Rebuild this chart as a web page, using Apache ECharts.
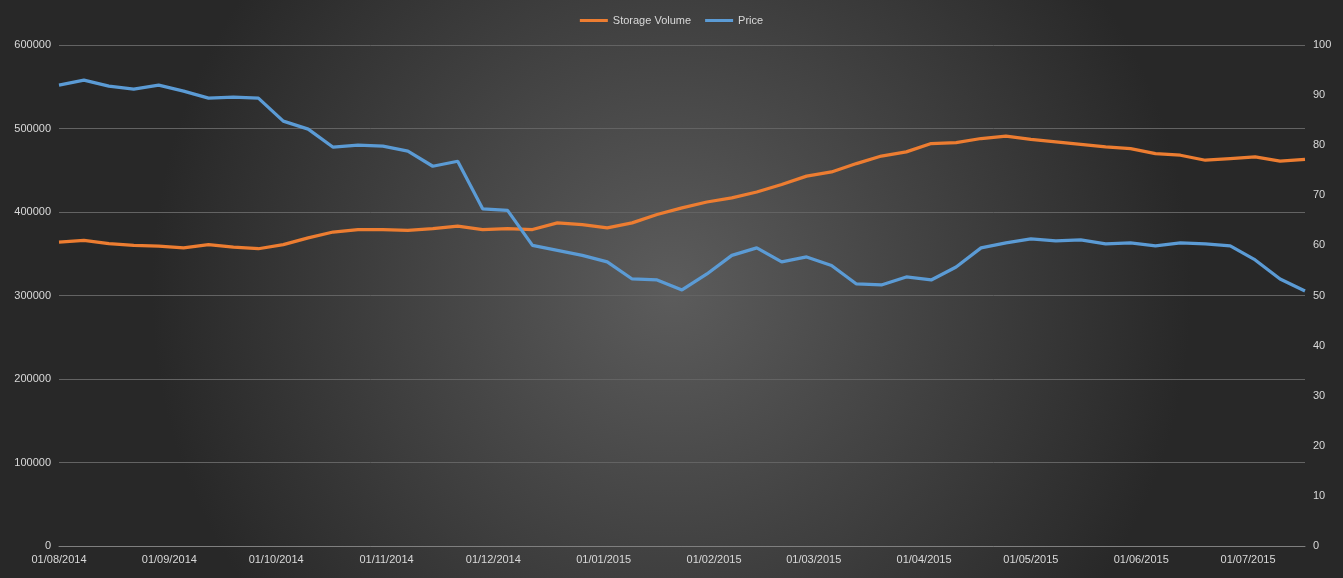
<!DOCTYPE html>
<html><head><meta charset="utf-8">
<script src="https://cdn.jsdelivr.net/npm/echarts@6/dist/echarts.min.js"></script>
<style>html,body{margin:0;padding:0;}#c{width:1343px;height:578px;}</style>
</head><body><div id="c"></div>
<script>
const startDate = '2014-08-01';
const weekCount = 51;
const storageVolume = [364000,366000,362000,360000,359000,357000,361000,358000,356000,361000,369000,376000,379000,379000,378000,380000,383000,379000,380000,379000,387000,385000,381000,387000,397000,405000,412000,417000,424000,433000,443000,448000,458000,467000,472000,482000,483000,488000,491000,487000,484000,481000,478000,476000,470000,468000,462000,464000,466000,461000,463000];
const price = [92,93,91.8,91.2,92,90.8,89.4,89.6,89.4,84.8,83.2,79.6,80,79.8,78.8,75.8,76.8,67.3,67,60,59,58,56.7,53.3,53.1,51.1,54.3,58,59.5,56.7,57.7,56,52.3,52.1,53.7,53.1,55.7,59.5,60.5,61.3,60.9,61.1,60.3,60.5,59.9,60.5,60.3,59.9,57.1,53.3,50.9];
const seriesNames = ['Storage Volume','Price'];

const t0 = new Date(startDate + 'T00:00:00Z').getTime();
const dates = [];
for (let i = 0; i < weekCount; i++) dates.push(t0 + i * 7 * 86400000);
const pad = n => (n < 10 ? '0' : '') + n;

const chart = echarts.init(document.getElementById('c'));
chart.setOption({
  backgroundColor: {type:'radial', x:0.5, y:0.5, r:0.9, colorStops:[{offset:0,color:'#5c5c5c'},{offset:1,color:'#282828'}]},
  animation:false,
  textStyle:{fontFamily:'Liberation Sans, Arial'},
  legend:{top:10, left:'center', itemWidth:28, itemHeight:3, icon:'rect', itemGap:14,
    textStyle:{color:'#d9d9d9', fontSize:11}, data:seriesNames},
  grid:{left:59, right:38, top:45, bottom:32},
  xAxis:{type:'time', min:dates[0], max:dates[dates.length-1], splitNumber:12,
    axisLine:{lineStyle:{color:'#7f7f7f'}}, axisTick:{show:false}, splitLine:{show:false},
    axisLabel:{color:'#d9d9d9', fontSize:11, showMinLabel:true, hideOverlap:false,
      formatter:function(v){const d=new Date(v); if(d.getUTCDate()!==1) return ''; return pad(d.getUTCDate())+'/'+pad(d.getUTCMonth()+1)+'/'+d.getUTCFullYear();}}},
  yAxis:[
    {type:'value', min:0, max:600000, interval:100000, axisLine:{show:false}, axisTick:{show:false},
     axisLabel:{color:'#d9d9d9', fontSize:11, formatter:v=>String(v)}, splitLine:{lineStyle:{color:'#636363'}}},
    {type:'value', min:0, max:100, interval:10, axisLine:{show:false}, axisTick:{show:false},
     axisLabel:{color:'#d9d9d9', fontSize:11}, splitLine:{show:false}}
  ],
  series:[
    {name:seriesNames[0], type:'line', yAxisIndex:0, showSymbol:false, color:'#ed7d31',
     lineStyle:{width:3.25}, data:dates.map((d,i)=>[d,storageVolume[i]])},
    {name:seriesNames[1], type:'line', yAxisIndex:1, showSymbol:false, color:'#5b9bd5',
     lineStyle:{width:3.25}, data:dates.map((d,i)=>[d,price[i]])}
  ]
});
</script></body></html>
